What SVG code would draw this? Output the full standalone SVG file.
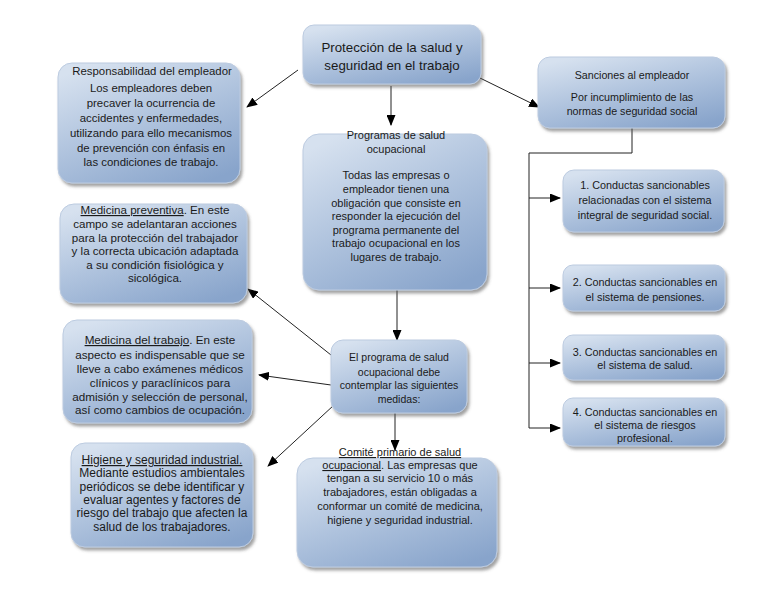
<svg xmlns="http://www.w3.org/2000/svg" width="768" height="594" viewBox="0 0 768 594">
<defs>
<linearGradient id="g" x1="0.2" y1="0" x2="0.8" y2="1">
<stop offset="0" stop-color="#d6e1ef"/>
<stop offset="0.5" stop-color="#aec2dd"/>
<stop offset="1" stop-color="#88a4cb"/>
</linearGradient>
<filter id="sh" x="-10%" y="-10%" width="125%" height="130%">
<feDropShadow dx="2" dy="3" stdDeviation="1.8" flood-color="#555" flood-opacity="0.55"/>
</filter>
<marker id="ah" markerUnits="userSpaceOnUse" markerWidth="11" markerHeight="9" refX="10" refY="4.5" orient="auto">
<path d="M0,0 L11,4.5 L0,9 z" fill="#000"/>
</marker>
</defs>
<style>
.b{fill:url(#g);stroke:#bccbe0;stroke-width:1;filter:url(#sh)}
text{font-family:"Liberation Sans",Arial,sans-serif;fill:#1a1a1a;text-anchor:middle}
.c{fill:none;stroke:#222;stroke-width:1}
.a{marker-end:url(#ah)}
.u{text-decoration:underline}
</style>
<rect width="768" height="594" fill="#fff"/>
<g id="connectors">
<line class="c a" x1="298" y1="70" x2="247" y2="107"/>
<line class="c a" x1="391" y1="86" x2="391" y2="125"/>
<line class="c a" x1="480" y1="78" x2="539" y2="107"/>
<line class="c a" x1="397" y1="290" x2="397" y2="340"/>
<line class="c a" x1="331" y1="355" x2="248" y2="289"/>
<line class="c a" x1="331" y1="385" x2="259" y2="375"/>
<line class="c a" x1="334" y1="405" x2="268" y2="466"/>
<line class="c a" x1="395" y1="413" x2="395" y2="450"/>
<polyline class="c" points="632,128 632,153 529,153 529,428"/>
<line class="c a" x1="529" y1="198" x2="560" y2="198"/>
<line class="c a" x1="529" y1="288" x2="560" y2="288"/>
<line class="c a" x1="529" y1="363" x2="560" y2="363"/>
<line class="c a" x1="529" y1="428" x2="560" y2="428"/>
</g>
<g id="n-top">
<rect class="b" x="303" y="25" width="178" height="59" rx="11"/>
<text font-size="13.3" x="392"><tspan x="392" y="51.5">Protección de la salud y</tspan><tspan x="392" y="69.5">seguridad en el trabajo</tspan></text>
</g>
<g id="n-resp">
<rect class="b" x="58" y="63" width="182" height="120" rx="14"/>
<text font-size="11.4"><tspan x="152" y="75">Responsabilidad del empleador</tspan><tspan x="151" y="92">Los empleadores deben</tspan><tspan x="151" y="107">precaver la ocurrencia de</tspan><tspan x="151" y="122">accidentes y enfermedades,</tspan><tspan x="151" y="137">utilizando para ello mecanismos</tspan><tspan x="151" y="152">de prevención con énfasis en</tspan><tspan x="151" y="166">las condiciones de trabajo.</tspan></text>
</g>
<g id="n-sanc">
<rect class="b" x="538" y="57" width="187" height="71" rx="12"/>
<text font-size="10.7"><tspan x="632" y="79">Sanciones al empleador</tspan><tspan x="632" y="101">Por incumplimiento de las</tspan><tspan x="632" y="115">normas de seguridad social</tspan></text>
</g>
<g id="n-prog">
<rect class="b" x="303" y="134" width="184" height="156" rx="16"/>
<text font-size="11"><tspan x="396" y="139">Programas de salud</tspan><tspan x="396" y="153">ocupacional</tspan><tspan x="396" y="179">Todas las empresas o</tspan><tspan x="396" y="193">empleador tienen una</tspan><tspan x="396" y="206.5">obligación que consiste en</tspan><tspan x="396" y="220">responder la ejecución del</tspan><tspan x="396" y="233.5">programa permanente del</tspan><tspan x="396" y="247">trabajo ocupacional en los</tspan><tspan x="396" y="261">lugares de trabajo.</tspan></text>
</g>
<g id="n-prev">
<rect class="b" x="60" y="204" width="187" height="99" rx="14"/>
<text font-size="11.6"><tspan x="155" y="214"><tspan class="u">Medicina preventiva</tspan>. En este</tspan><tspan x="155" y="228">campo se adelantaran acciones</tspan><tspan x="155" y="241.5">para la protección del trabajador</tspan><tspan x="155" y="255">y la correcta ubicación adaptada</tspan><tspan x="155" y="268.5">a su condición fisiológica y</tspan><tspan x="155" y="282">sicológica.</tspan></text>
</g>
<g id="n-trab">
<rect class="b" x="63" y="320" width="189" height="103" rx="14"/>
<text font-size="11.7"><tspan x="160" y="344"><tspan class="u">Medicina del trabajo</tspan>. En este</tspan><tspan x="160" y="359">aspecto es indispensable que se</tspan><tspan x="160" y="373">lleve a cabo exámenes médicos</tspan><tspan x="160" y="387">clínicos y paraclínicos para</tspan><tspan x="160" y="401">admisión y selección de personal,</tspan><tspan x="160" y="414">así como cambios de ocupación.</tspan></text>
</g>
<g id="n-hig">
<rect class="b" x="71" y="443" width="182" height="104" rx="14"/>
<text font-size="12"><tspan x="162" y="464" class="u">Higiene y seguridad industrial.</tspan><tspan x="162" y="477">Mediante estudios ambientales</tspan><tspan x="162" y="491">periódicos se debe identificar y</tspan><tspan x="162" y="504">evaluar agentes y factores de</tspan><tspan x="162" y="517">riesgo del trabajo que afecten la</tspan><tspan x="162" y="531">salud de los trabajadores.</tspan></text>
</g>
<g id="n-prog2">
<rect class="b" x="331" y="340" width="136" height="73" rx="12"/>
<text font-size="10.5"><tspan x="399" y="361">El programa de salud</tspan><tspan x="399" y="375.5">ocupacional debe</tspan><tspan x="399" y="389">contemplar las siguientes</tspan><tspan x="399" y="403">medidas:</tspan></text>
</g>
<g id="n-comite">
<rect class="b" x="297" y="458" width="200" height="109" rx="16"/>
<text font-size="11"><tspan x="400" y="456" class="u">Comité primario de salud</tspan><tspan x="400" y="469"><tspan class="u">ocupacional</tspan>. Las empresas que</tspan><tspan x="400" y="482">tengan a su servicio 10 o más</tspan><tspan x="400" y="496">trabajadores, están obligadas a</tspan><tspan x="400" y="510">conformar un comité de medicina,</tspan><tspan x="400" y="524">higiene y seguridad industrial.</tspan></text>
</g>
<g id="n-c1">
<rect class="b" x="563" y="170" width="161" height="62" rx="11"/>
<text font-size="10.8"><tspan x="645" y="189">1. Conductas sancionables</tspan><tspan x="645" y="204">relacionadas con el sistema</tspan><tspan x="645" y="219">integral de seguridad social.</tspan></text>
</g>
<g id="n-c2">
<rect class="b" x="563" y="265" width="162" height="46" rx="10"/>
<text font-size="10.8"><tspan x="645" y="286">2. Conductas sancionables en</tspan><tspan x="645" y="301">el sistema de pensiones.</tspan></text>
</g>
<g id="n-c3">
<rect class="b" x="563" y="335" width="162" height="45" rx="10"/>
<text font-size="10.8"><tspan x="645" y="356">3. Conductas sancionables en</tspan><tspan x="645" y="369">el sistema de salud.</tspan></text>
</g>
<g id="n-c4">
<rect class="b" x="563" y="398" width="162" height="48" rx="10"/>
<text font-size="10.8"><tspan x="645" y="416">4. Conductas sancionables en</tspan><tspan x="645" y="429">el sistema de riesgos</tspan><tspan x="645" y="442">profesional.</tspan></text>
</g>
</svg>
